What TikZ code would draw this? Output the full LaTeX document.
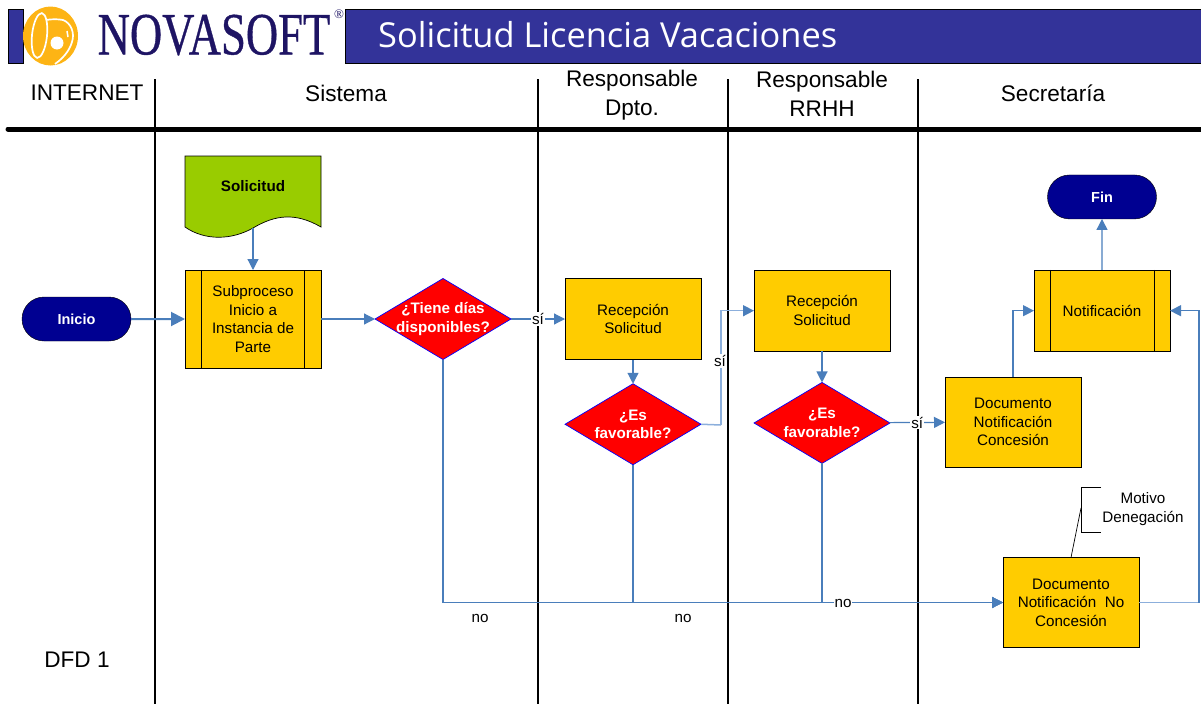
\documentclass[tikz,border=0pt]{standalone}
\usepackage{fontspec}
\setmainfont{Liberation Sans}
\newfontfamily\logofont[FakeBold=0.7]{Liberation Serif}
\newfontfamily\regfont{Liberation Serif}
\newfontfamily\titlefont{Open Sans}
\usetikzlibrary{calc}
\usetikzlibrary{positioning, shapes, shapes.geometric, arrows.meta}
\definecolor{barblue}{RGB}{51,51,153}
\definecolor{logoblue}{RGB}{30,20,100}
\definecolor{logoorange}{RGB}{253,180,21}
\definecolor{boxyellow}{RGB}{255,204,0}
\definecolor{docgreen}{RGB}{153,204,0}
\definecolor{pillblue}{RGB}{0,0,145}
\definecolor{linkblue}{RGB}{74,126,187}
\definecolor{linklight}{RGB}{140,175,220}
\tikzset{
    body/.style={font=\fontsize{15.2}{18.5}\selectfont, align=center, text=black},
    lane/.style={font=\fontsize{22.6}{29}\selectfont, align=center},
    process/.style={body, draw=black, line width=.7pt, fill=boxyellow, minimum width=136pt, minimum height=81.5pt, inner sep=0pt, outer sep=0pt},
    decision/.style={diamond, draw=blue, line width=.7pt, fill=red, minimum width=136pt, minimum height=81pt, inner sep=0pt, outer sep=0pt},
    decisiontext/.style={body, text=white, font=\fontsize{15.2}{18.5}\selectfont\bfseries},
    pill/.style={rounded rectangle, draw=black, fill=pillblue, text=white, minimum width=109pt, minimum height=44pt, inner sep=0pt, outer sep=0pt, font=\fontsize{14.5}{18}\selectfont\bfseries},
    link/.style={draw=linkblue, line width=1.2pt, -{Triangle[length=11pt,width=11pt,color=linkblue]}},
    lightlink/.style={draw=linklight, line width=1.5pt},
    tag/.style={body, fill=white, inner sep=1pt},
}
\begin{document}
\begin{tikzpicture}[x=1pt, y=-1pt]
    \useasboundingbox (0,0) rectangle (1201,704);

    % Banner
    \draw[black, fill=barblue] (345,9) rectangle (1202,63.5);
    \draw[black, fill=barblue] (8.5,9) rectangle (23,63.5);
    \node (title) [anchor=west, text=white, font=\fontsize{34.4}{36}\selectfont\titlefont, inner sep=0pt] at (378,35) {Solicitud Licencia Vacaciones};

    % Logo
    \fill[logoorange] (50.5,36) ellipse [x radius=27.5, y radius=29.5];
    \draw[white, line width=1.7pt, rotate around={-6:(39.5,35.5)}] (39.5,35.5) ellipse [x radius=7.5, y radius=22.5];
    \fill[white] (57,43) circle (6.5);
    \draw[white, line width=1.7pt] (46,20) .. controls (52,19) and (58,19) .. (63,20) .. controls (71,23) and (75,33) .. (72,42) .. controls (69,52) and (62,59) .. (55,64);
    \draw[white, line width=1.5pt] (67,31) -- (68,37);
    \node (brand) [xscale=.745, text=logoblue, font=\fontsize{60}{60}\selectfont\logofont, inner sep=0pt] at (214,35) {NOVASOFT};
    \node (reg) [text=logoblue, font=\fontsize{13}{13}\selectfont\regfont, inner sep=0pt] at (339,14) {®};

    % Lanes
    \node (l1) [lane] at (87,93) {INTERNET};
    \node (l2) [lane] at (346,93) {Sistema};
    \node (l3) [lane] at (632,95) {Responsable\\Dpto.};
    \node (l4) [lane] at (822,93.5) {Responsable\\RRHH};
    \node (l5) [lane] at (1053,93) {Secretaría};
    \draw[black, line width=5pt, line cap=round] (8,129) -- (1201,129);
    \foreach \x in {155,537.5,727.5,917.5}
        \draw[black, line width=2pt] (\x,79) -- (\x,704);

    % Document shape
    \draw[black, line width=.7pt, fill=docgreen] (185,156) -- (321,156) -- (321,227) .. controls (295,212) and (275,215) .. (253,228) .. controls (232,240) and (205,241) .. (185,227) -- cycle;
    \coordinate (sol) at (253,228);
    \node (soltext) [body, font=\fontsize{15.2}{18.5}\selectfont\bfseries] at (253,186) {Solicitud};

    % Nodes
    \node (inicio) [pill] at (76.5,319) {Inicio};
    \node (s1) [process, minimum height=98pt, right=54pt of inicio] {Subproceso\\Inicio a\\Instancia de\\Parte};
    \node (d1) [decision, right=54pt of s1, label={[decisiontext]center:¿Tiene días\\disponibles?}] {};
    \node (r1) [process, right=54pt of d1] {Recepción\\Solicitud};
    \node (d2) [decision, below=24pt of r1, label={[decisiontext]center:¿Es\\favorable?}] {};
    \node (r2) [process] at (822,310.7) {Recepción\\Solicitud};
    \node (d3) [decision, below=31pt of r2, label={[decisiontext]center:¿Es\\favorable?}] {};
    \node (c1) [process, minimum height=90pt] at (1013,422) {Documento\\Notificación\\Concesión};
    \node (n1) [process] at (1102,310.7) {Notificación};
    \node (fin) [pill, above=51pt of n1] {Fin};
    \node (c2) [process, minimum height=90pt] at (1071,602.5) {Documento\\Notificación\ \ No\\Concesión};
    \node (motivo) [body] at (1143,509) {Motivo\\Denegación};
    \node (dfd) [lane] at (77,660) {DFD 1};

    % Side bars of the subprocesses
    \draw[black, line width=.7pt] ($(s1.north west)+(16.5,0)$) -- ($(s1.south west)+(16.5,0)$);
    \draw[black, line width=.7pt] ($(s1.north east)+(-16.5,0)$) -- ($(s1.south east)+(-16.5,0)$);
    \draw[black, line width=.7pt] ($(n1.north west)+(16,0)$) -- ($(n1.south west)+(16,0)$);
    \draw[black, line width=.7pt] ($(n1.north east)+(-16,0)$) -- ($(n1.south east)+(-16,0)$);

    % Annotation
    \coordinate (a1) at (1081,508);
    \draw[black, line width=.7pt] (1101,487) -- (1081,487) -- (1081,532) -- (1101,532);
    \draw[black, line width=.7pt] (c2.north) -- (a1);

    % Arrows
    \draw[draw=linkblue, line width=2pt, -{Triangle[length=14pt,width=14pt,color=linkblue]}] (inicio) -- (s1);
    \draw[link] (sol) -- (s1);
    \draw[link] (s1) -- (d1);
    \draw[link] (d1) -- node[tag] (si1) {sí} (r1);
    \draw[link] (r1) -- (d2);
    \coordinate (b1) at (721,425);
    \draw[lightlink] (d2.east) -- (b1);
    \draw[link, draw=linklight, line width=1.5pt] (b1) |- (r2.west);
    \node (si2) [tag] at (720,361) {sí};
    \draw[link] (r2) -- (d3);
    \draw[link] (d3) -- node[tag] (si3) {sí} (c1);
    \draw[link] (c1.north) |- (n1.west);
    \draw[link] (n1) -- (fin);
    \draw[link] (d1.south) |- (c2.west);
    \draw[link] (d2.south) |- (c2.west);
    \draw[link] (d3.south) |- (c2.west);
    \node (no1) [body] at (480,618) {no};
    \node (no2) [body] at (683,618) {no};
    \node (no3) [tag] at (843,603) {no};
    \coordinate (b2) at (1199,602.5);
    \draw[lightlink] (c2.east) -- (b2);
    \draw[link] (b2) |- (n1.east);
\end{tikzpicture}
\end{document}
